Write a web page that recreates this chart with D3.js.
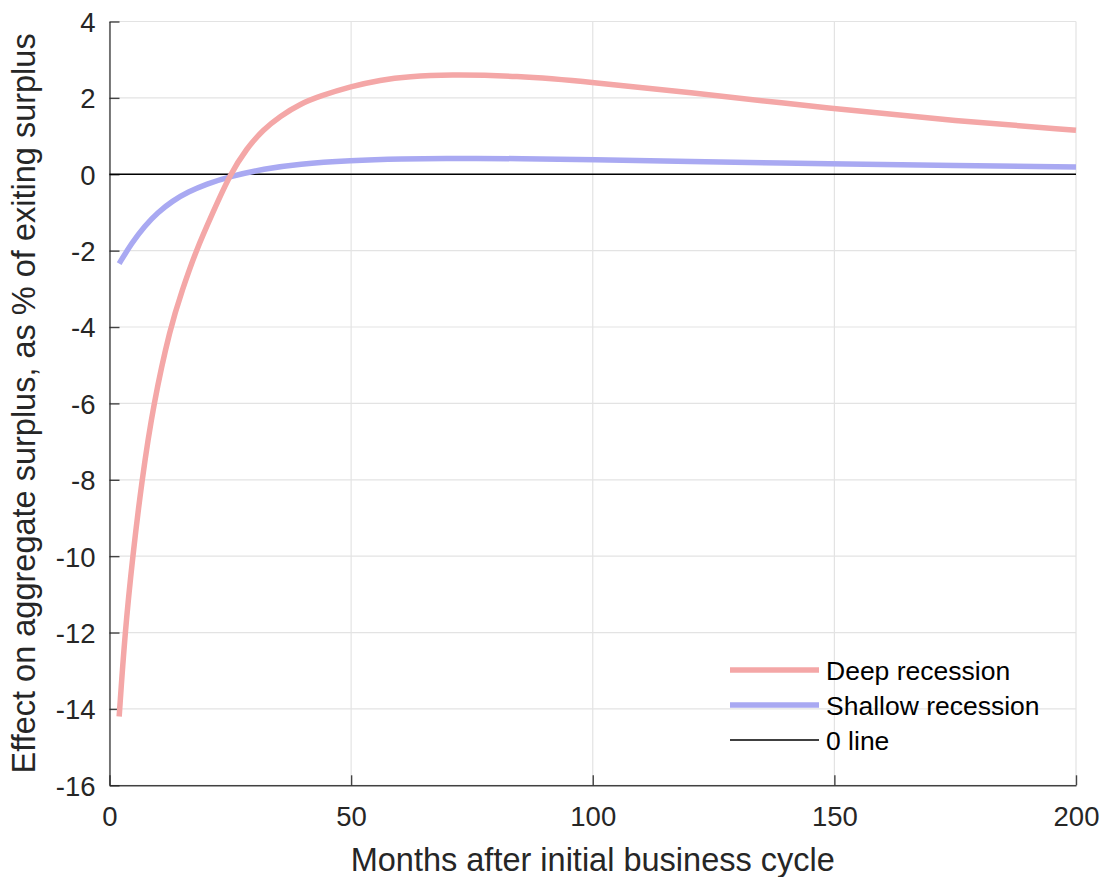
<!DOCTYPE html>
<html>
<head>
<meta charset="utf-8">
<script src="https://cdn.jsdelivr.net/npm/d3@7"></script>
<style>
  html, body { margin: 0; padding: 0; background: #fff; }
  svg { display: block; font-family: "Liberation Sans", Arial, Helvetica, sans-serif; }
</style>
</head>
<body>
<svg id="chart" width="1104" height="877"></svg>
<script>
// ---- data ----
const deepMonths  = [2, 3.2, 4.8, 6.7, 9.1, 12.6, 15, 17.9, 21.4, 24.95, 28.4, 31.8, 35.3, 39.4, 43.6, 50, 56, 62, 70, 84, 100, 118, 150, 175, 200];
const deepValues  = [-14.2, -12, -10, -8, -6, -4, -3.05, -2, -1.0, 0, 0.68, 1.17, 1.52, 1.84, 2.05, 2.30, 2.47, 2.56, 2.61, 2.58, 2.41, 2.17, 1.71, 1.40, 1.15];
const shallowMonths = [2, 4.6, 7.3, 10, 13, 16.3, 20, 25, 32, 39, 50, 60, 73, 85, 100, 118, 150, 175, 200];
const shallowValues = [-2.34, -1.80, -1.35, -1.00, -0.70, -0.46, -0.26, -0.05, 0.14, 0.27, 0.36, 0.40, 0.42, 0.41, 0.38, 0.34, 0.27, 0.23, 0.19];
const xTicks = [0, 50, 100, 150, 200];
const yTicks = [-16, -14, -12, -10, -8, -6, -4, -2, 0, 2, 4];
const seriesNames = ["Deep recession", "Shallow recession", "0 line"];
const xLabel = "Months after initial business cycle";
const yLabel = "Effect on aggregate surplus, as % of exiting surplus";

// ---- layout ----
const plotL = 109.5, plotR = 1076, plotT = 21.5, plotB = 785.3;
const colDeep = "#f4a7a7", colShallow = "#a9a9f2", axisCol = "#262626", gridCol = "#e3e3e3";

const svg = d3.select("#chart");
const x = d3.scaleLinear().domain([0, 200]).range([plotL, plotR]);
const y = d3.scaleLinear().domain([-16, 4]).range([plotB, plotT]);

// grid
const grid = svg.append("g");
grid.selectAll("line.gx").data(xTicks).join("line")
  .attr("class", "gx")
  .attr("x1", d => x(d)).attr("x2", d => x(d))
  .attr("y1", plotT).attr("y2", plotB)
  .attr("stroke", gridCol).attr("stroke-width", 1.2);
grid.selectAll("line.gy").data(yTicks).join("line")
  .attr("class", "gy")
  .attr("y1", d => y(d)).attr("y2", d => y(d))
  .attr("x1", plotL).attr("x2", plotR)
  .attr("stroke", gridCol).attr("stroke-width", 1.2);

// axes
const xAxis = d3.axisBottom(x).tickValues(xTicks).tickSizeInner(-10).tickSizeOuter(0).tickPadding(21).tickFormat(d3.format("d"));
const yAxis = d3.axisLeft(y).tickValues(yTicks).tickSizeInner(-10).tickSizeOuter(0).tickPadding(14).tickFormat(d => d < 0 ? "-" + Math.abs(d) : String(d));

const gx = svg.append("g").attr("transform", `translate(0,${plotB})`).call(xAxis);
const gy = svg.append("g").attr("transform", `translate(${plotL},0)`).call(yAxis);
[gx, gy].forEach(g => {
  g.select(".domain").attr("stroke", axisCol).attr("stroke-width", 1.4).attr("opacity", 0.85);
  g.selectAll(".tick line").attr("stroke", axisCol).attr("stroke-width", 1.4).attr("opacity", 0.85);
  g.selectAll(".tick text").attr("fill", axisCol).attr("font-size", 27.5)
    .attr("font-family", "'Liberation Sans', Arial, sans-serif");
});
gx.selectAll(".tick text").attr("dy", "0.71em");
gy.selectAll(".tick text").attr("dy", "0.36em");

// zero line
svg.append("line")
  .attr("x1", x(0)).attr("x2", x(200)).attr("y1", y(0)).attr("y2", y(0))
  .attr("stroke", "#000").attr("stroke-width", 1.4);

// series
const line = d3.line().x(d => x(d[0])).y(d => y(d[1])).curve(d3.curveBasis);
const deep = deepMonths.map((m, i) => [m, deepValues[i]]);
const shallow = shallowMonths.map((m, i) => [m, shallowValues[i]]);

svg.append("path").datum(shallow).attr("d", line)
  .attr("fill", "none").attr("stroke", colShallow).attr("stroke-width", 5.5);
svg.append("path").datum(deep).attr("d", line)
  .attr("fill", "none").attr("stroke", colDeep).attr("stroke-width", 5.5);

// labels
svg.append("text").attr("x", (plotL + plotR) / 2).attr("y", 871)
  .attr("text-anchor", "middle").attr("font-size", 32.5).attr("fill", axisCol)
  .text(xLabel);
svg.append("text").attr("transform", `translate(35,${(plotT + plotB) / 2}) rotate(-90)`)
  .attr("text-anchor", "middle").attr("font-size", 32.5).attr("fill", axisCol)
  .text(yLabel);

// legend
const legend = svg.append("g");
const legendStyles = [
  { color: colDeep, width: 5.5 },
  { color: colShallow, width: 5.5 },
  { color: "#000", width: 1.4 }
];
seriesNames.forEach((name, i) => {
  const cy = 670 + i * 35;
  legend.append("line").attr("x1", 730).attr("x2", 819).attr("y1", cy).attr("y2", cy)
    .attr("stroke", legendStyles[i].color).attr("stroke-width", legendStyles[i].width);
  legend.append("text").attr("x", 826).attr("y", cy).attr("dy", "0.36em")
    .attr("font-size", 26.5).attr("fill", "#000").text(name);
});
</script>
</body>
</html>
